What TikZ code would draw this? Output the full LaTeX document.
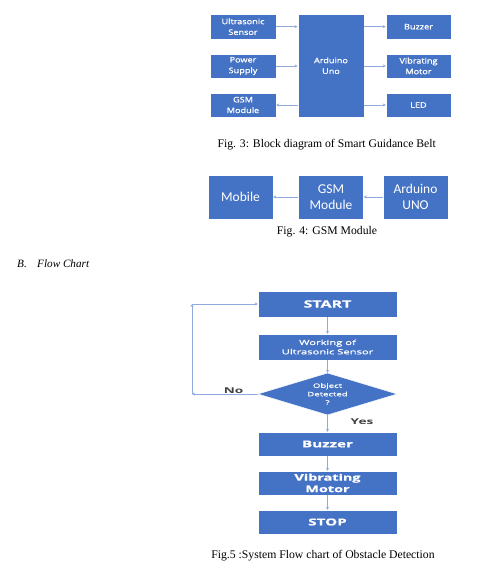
\documentclass[tikz,border=0pt]{standalone}
\usepackage{fontspec}
\setmainfont{Liberation Serif}
\newfontfamily\fthree{Open Sans}[FakeStretch=1.2, FakeBold=1.2]
\newfontfamily\ffive{Open Sans}[FakeStretch=1.6, FakeBold=1]
\newfontfamily\flab{Open Sans}[FakeStretch=1.7]
\newfontfamily\calfont{Carlito}
\usetikzlibrary{shapes.geometric,arrows.meta}
\definecolor{boxblue}{HTML}{4472C4}
\definecolor{arrblue}{HTML}{8FAADC}
\definecolor{labgray}{HTML}{404040}
\tikzset{
  blk/.style={fill=boxblue, draw=white, line width=0.4pt, text=white, align=center, inner sep=0pt},
  arr/.style={draw=arrblue, line width=1pt, -{Stealth[length=3pt,width=3pt]}},
  figcap/.style={font=\fontsize{11.7}{13}\selectfont, inner sep=0pt, anchor=base},
  f3/.style={font=\fthree\fontsize{7.6}{10.7}\selectfont},
  f4/.style={font=\calfont\fontsize{13.5}{15.7}\selectfont},
  lab/.style={font=\flab\bfseries\fontsize{8}{10}\selectfont, text=labgray, inner sep=0pt},
  sec/.style={font=\itshape\fontsize{11.2}{13}\selectfont, inner sep=0pt, anchor=base west}
}
\begin{document}
\begin{tikzpicture}[x=1pt,y=-1pt]
\useasboundingbox (0,0) rectangle (493,568);
% ---------- Fig. 3 ----------
\node[blk,f3,minimum width=66pt,minimum height=24.7pt] (us) at (243,26.7) {Ultrasonic\\Sensor};
\node[blk,f3,minimum width=66pt,minimum height=24pt] (ps) at (243,66) {Power\\Supply};
\node[blk,f3,minimum width=66pt,minimum height=24pt] (gsm) at (243,105) {GSM\\Module};
\node[blk,f3,minimum width=66.5pt,minimum height=102.7pt] (ard) at (331,65.7) {Arduino\\Uno};
\node[blk,f3,minimum width=65pt,minimum height=24.7pt] (bz) at (418.5,26.7) {Buzzer};
\node[blk,f3,minimum width=65pt,minimum height=24pt] (vm) at (418.5,66) {Vibrating\\Motor};
\node[blk,f3,minimum width=65pt,minimum height=24pt] (led) at (418.5,105) {LED};
\draw[arr] (us.east) -- (us.east -| ard.west);
\draw[arr] (ps.east) -- (ps.east -| ard.west);
\draw[arr] (gsm.east -| ard.west) -- (gsm.east);
\draw[arr] (bz.west -| ard.east) -- (bz.west);
\draw[arr] (vm.west -| ard.east) -- (vm.west);
\draw[arr] (led.west -| ard.east) -- (led.west);
\node[figcap] (cap3) at (326.7,147.5) {Fig. 3: Block diagram of Smart Guidance Belt};
% ---------- Fig. 4 ----------
\node[blk,f4,minimum width=65pt,minimum height=44pt] (mob) at (240.5,197) {Mobile};
\node[blk,f4,minimum width=65pt,minimum height=44pt] (gsm2) at (331,197) {GSM\\Module};
\node[blk,f4,minimum width=65pt,minimum height=44pt] (ard2) at (415.5,197) {Arduino\\UNO};
\draw[arr] (ard2.west) -- (gsm2.east);
\draw[arr] (gsm2.west) -- (mob.east);
\node[figcap] (cap4) at (327,234.5) {Fig. 4: GSM Module};
% ---------- Section heading ----------
\node[sec] (secb) at (17,267) {B.};
\node[sec] (sect) at (37,267) {Flow Chart};
% ---------- Fig. 5 ----------
\node[blk,font=\ffive\bfseries\fontsize{10}{12}\selectfont,minimum width=139pt,minimum height=26pt] (start) at (327.5,304) {START};
\node[blk,font=\ffive\fontsize{7}{9.3}\selectfont,minimum width=139pt,minimum height=26pt] (work) at (327.5,347) {Working of\\Ultrasonic Sensor};
\node[blk,diamond,aspect=3.3,font=\ffive\fontsize{6}{8.4}\selectfont,minimum width=139pt,minimum height=42pt] (dia) at (327.5,394) {Object\\Detected\\?};
\node[blk,font=\ffive\bfseries\fontsize{9.5}{12}\selectfont,minimum width=139pt,minimum height=24pt] (buz) at (327.5,444) {Buzzer};
\node[blk,font=\ffive\bfseries\fontsize{9}{11.5}\selectfont,minimum width=139pt,minimum height=24pt] (vib) at (327.5,483) {Vibrating\\Motor};
\node[blk,font=\ffive\bfseries\fontsize{9.5}{12}\selectfont,minimum width=139pt,minimum height=24pt] (stop) at (327.5,522) {STOP};
\draw[arr] (start.south) -- (work.north);
\draw[arr] (work.south) -- (dia.north);
\draw[arr] (dia.south) -- (buz.north);
\draw[arr] (buz.south) -- (vib.north);
\draw[arr] (vib.south) -- (stop.north);
\coordinate (c1) at (192,394);
\coordinate (c2) at (192,304);
\draw[arr] (dia.west) -- (c1);
\draw[arr] (c1) -- (c2);
\draw[arr] (c2) -- (start.west);
\node[lab] (no) at (233.5,391) {No};
\node[lab] (yes) at (362,422) {Yes};
\node[figcap] (cap5) at (323,558) {Fig.5 :System Flow chart of Obstacle Detection};
\end{tikzpicture}
\end{document}
